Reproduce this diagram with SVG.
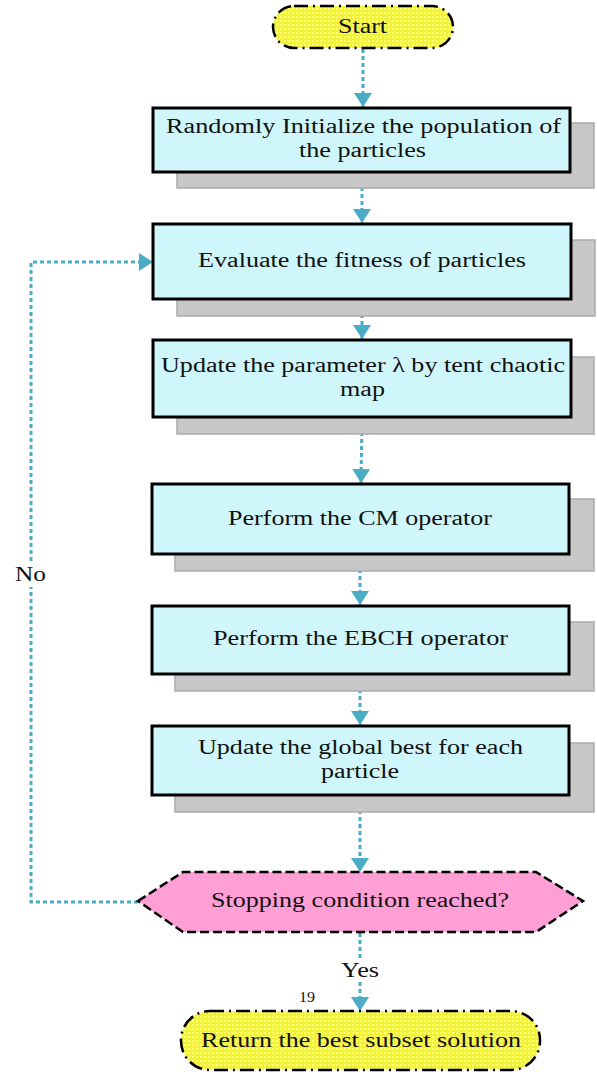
<svg xmlns="http://www.w3.org/2000/svg" width="597" height="1074" viewBox="0 0 597 1074">
<style>
.t{font-family:"Times New Roman","Liberation Serif",Tinos,"DejaVu Serif",serif;font-size:20px;fill:#111;}
.box{fill:#CFF6FA;stroke:#000;stroke-width:3;}
.shadow{fill:#C8C8C8;stroke:#AAAAAA;stroke-width:1.5;}
.pill{fill:url(#dots);stroke:#000;stroke-width:2.5;stroke-dasharray:14 5 2 5;}
.dec{fill:#FF9FD6;stroke:#000;stroke-width:2.5;stroke-dasharray:9 4;}
.con{fill:none;stroke:#4BACC6;stroke-width:3;stroke-dasharray:4 3;}
</style>
<defs>
<pattern id="dots" width="4" height="4" patternUnits="userSpaceOnUse">
<rect width="4" height="4" fill="#F2F23A"/>
<rect x="0" y="0" width="2" height="2" fill="#FFFF7A"/>
</pattern>
<marker id="arr" viewBox="0 0 14 18" markerWidth="14" markerHeight="18" refX="14" refY="9" orient="auto" markerUnits="userSpaceOnUse">
<path d="M0,0 L14,9 L0,18 z" fill="#4BACC6"/>
</marker>
</defs>
<rect width="597" height="1074" fill="#fff"/>
<g id="connectors">
<line class="con" x1="363" y1="49" x2="363" y2="107" marker-end="url(#arr)"/>
<line class="con" x1="362" y1="173" x2="362" y2="223" marker-end="url(#arr)"/>
<line class="con" x1="362" y1="300" x2="362" y2="339" marker-end="url(#arr)"/>
<line class="con" x1="362" y1="418" x2="361" y2="483" marker-end="url(#arr)"/>
<line class="con" x1="360" y1="555" x2="360" y2="605" marker-end="url(#arr)"/>
<line class="con" x1="360" y1="675" x2="360" y2="725" marker-end="url(#arr)"/>
<line class="con" x1="360" y1="796" x2="360" y2="872" marker-end="url(#arr)"/>
<line class="con" x1="360" y1="933" x2="360" y2="1011" marker-end="url(#arr)"/>
<polyline class="con" points="138,902 31,902 31,262 153,262" marker-end="url(#arr)"/>
<rect x="12" y="563" width="38" height="24" fill="#fff"/>
<text class="t" x="15" y="581" textLength="31" lengthAdjust="spacingAndGlyphs">No</text>
<rect x="338" y="958" width="44" height="24" fill="#fff"/>
<text class="t" x="341" y="977" textLength="38" lengthAdjust="spacingAndGlyphs">Yes</text>
</g>
<g id="start">
<rect class="pill" x="273" y="6" width="180" height="42" rx="21" ry="21"/>
<text class="t" x="338" y="33" textLength="49" lengthAdjust="spacingAndGlyphs">Start</text>
</g>
<g id="init">
<rect class="shadow" x="177" y="123" width="417" height="65"/>
<rect class="box" x="153" y="108" width="417" height="64"/>
<text class="t" x="166" y="133" textLength="395" lengthAdjust="spacingAndGlyphs">Randomly Initialize the population of</text>
<text class="t" x="299" y="157" textLength="127" lengthAdjust="spacingAndGlyphs">the particles</text>
</g>
<g id="evaluate">
<rect class="shadow" x="177" y="240" width="418" height="76"/>
<rect class="box" x="153" y="224" width="418" height="75"/>
<text class="t" x="198" y="267" textLength="328" lengthAdjust="spacingAndGlyphs">Evaluate the fitness of particles</text>
</g>
<g id="update-lambda">
<rect class="shadow" x="177" y="357" width="417" height="77"/>
<rect class="box" x="153" y="340" width="418" height="77"/>
<text class="t" x="161" y="372" textLength="404" lengthAdjust="spacingAndGlyphs">Update the parameter λ by tent chaotic</text>
<text class="t" x="340" y="396" textLength="45" lengthAdjust="spacingAndGlyphs">map</text>
</g>
<g id="cm">
<rect class="shadow" x="175" y="499" width="419" height="72"/>
<rect class="box" x="152" y="484" width="417" height="70"/>
<text class="t" x="228" y="525" textLength="264" lengthAdjust="spacingAndGlyphs">Perform the CM operator</text>
</g>
<g id="ebch">
<rect class="shadow" x="175" y="622" width="419" height="69"/>
<rect class="box" x="152" y="606" width="417" height="68"/>
<text class="t" x="213" y="645" textLength="295" lengthAdjust="spacingAndGlyphs">Perform the EBCH operator</text>
</g>
<g id="global-best">
<rect class="shadow" x="175" y="743" width="419" height="69"/>
<rect class="box" x="152" y="726" width="417" height="69"/>
<text class="t" x="198" y="754" textLength="325" lengthAdjust="spacingAndGlyphs">Update the global best for each</text>
<text class="t" x="321" y="778" textLength="78" lengthAdjust="spacingAndGlyphs">particle</text>
</g>
<g id="stop">
<polygon class="dec" points="138,901 183,872 536,872 583,901 536,932 183,932"/>
<text class="t" x="211" y="907" textLength="298" lengthAdjust="spacingAndGlyphs">Stopping condition reached?</text>
</g>
<g id="page-number">
<text class="t" x="299" y="1002" style="font-size:15px" textLength="16" lengthAdjust="spacingAndGlyphs">19</text>
</g>
<g id="return">
<rect class="pill" x="181" y="1011" width="359" height="59" rx="29" ry="29"/>
<text class="t" x="201" y="1047" textLength="320" lengthAdjust="spacingAndGlyphs">Return the best subset solution</text>
</g>
</svg>
